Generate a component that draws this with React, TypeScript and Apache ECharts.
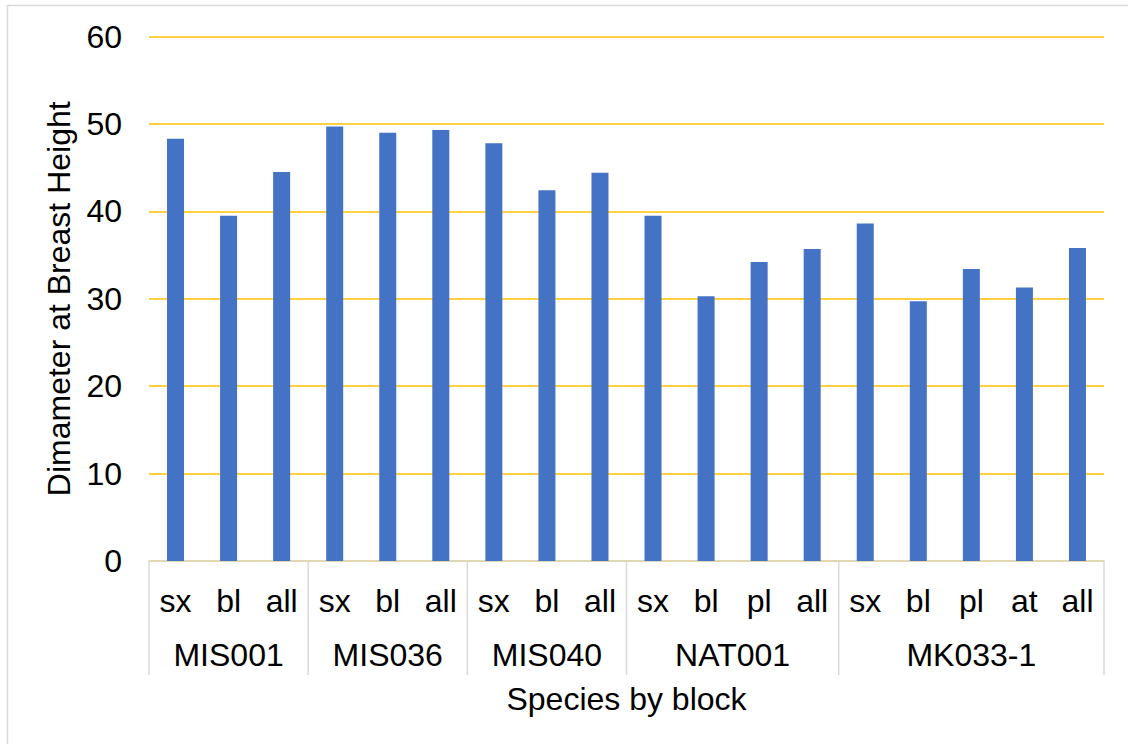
import React, { useEffect, useRef } from "react";
import * as echarts from "echarts";

// Species within each block, in drawing order
const species = [
  "sx", "bl", "all",
  "sx", "bl", "all",
  "sx", "bl", "all",
  "sx", "bl", "pl", "all",
  "sx", "bl", "pl", "at", "all",
];

// Mean diameter at breast height for each species/block pair
const dbh = [
  48.3, 39.5, 44.5,
  49.7, 49.0, 49.3,
  47.8, 42.4, 44.4,
  39.5, 30.3, 34.2, 35.7,
  38.6, 29.7, 33.4, 31.3, 35.8,
];

// Blocks and how many species columns each spans
const blocks = ["MIS001", "MIS036", "MIS040", "NAT001", "MK033-1"];
const blockSizes = [3, 3, 3, 4, 5];

const yTicks = { min: 0, max: 60, interval: 10 };

const FONT = "Liberation Sans, Arial, sans-serif";
const FS = 32;
const GRID_GOLD = "#FFC000";
const AXIS_GREY = "#D9D9D9";
const BAR_BLUE = "#4472C4";

export default function App() {
  const ref = useRef<HTMLDivElement>(null);

  useEffect(() => {
    if (!ref.current) return;
    const chart = echarts.init(ref.current, undefined, { renderer: "svg" });

    // block spans in category units, [start, end)
    const spans: number[][] = [];
    let acc = 0;
    blockSizes.forEach((n) => {
      spans.push([acc, acc + n, 0]);
      acc += n;
    });

    chart.setOption({
      animation: false,
      textStyle: { fontFamily: FONT },
      grid: { left: 149, right: 24, top: 36.5, bottom: 183, containLabel: false },
      xAxis: [
        {
          type: "category",
          data: species,
          axisLine: { show: true, lineStyle: { color: AXIS_GREY, width: 1.5 } },
          axisTick: { show: false },
          axisLabel: {
            color: "#000",
            fontSize: FS,
            lineHeight: 32,
            margin: 24,
            interval: 0,
            fontFamily: FONT,
          },
          name: "Species by block",
          nameLocation: "middle",
          nameGap: 122,
          nameTextStyle: { color: "#000", fontSize: FS, lineHeight: 32, fontFamily: FONT },
        },
        {
          type: "value",
          min: 0,
          max: species.length,
          show: false,
          position: "bottom",
        },
      ],
      yAxis: {
        type: "value",
        min: yTicks.min,
        max: yTicks.max,
        interval: yTicks.interval,
        axisLine: { show: false },
        axisTick: { show: false },
        splitLine: { lineStyle: { color: GRID_GOLD, width: 1.5 } },
        axisLabel: { color: "#000", fontSize: FS, margin: 27, fontFamily: FONT },
        name: "Dimameter at Breast Height",
        nameLocation: "middle",
        nameGap: 74,
        nameTextStyle: { color: "#000", fontSize: FS, fontFamily: FONT },
      },
      series: [
        {
          type: "bar",
          data: dbh,
          barWidth: 17,
          itemStyle: { color: BAR_BLUE },
        },
        {
          // block labels and their separators under the species row
          type: "custom",
          xAxisIndex: 1,
          yAxisIndex: 0,
          clip: false,
          silent: true,
          data: spans,
          encode: { x: [0, 1], y: 2 },
          renderItem: (params: any, api: any) => {
            const a = api.coord([api.value(0), 0]);
            const b = api.coord([api.value(1), 0]);
            const children: any[] = [
              {
                type: "line",
                shape: { x1: a[0], y1: a[1], x2: a[0], y2: a[1] + 114 },
                style: { stroke: AXIS_GREY, lineWidth: 1.5 },
              },
              {
                type: "text",
                x: (a[0] + b[0]) / 2,
                y: a[1] + 94,
                style: {
                  text: blocks[params.dataIndex],
                  fill: "#000",
                  font: `${FS}px ${FONT}`,
                  align: "center",
                  verticalAlign: "middle",
                },
              },
            ];
            if (params.dataIndex === blocks.length - 1) {
              children.push({
                type: "line",
                shape: { x1: b[0], y1: b[1], x2: b[0], y2: b[1] + 114 },
                style: { stroke: AXIS_GREY, lineWidth: 1.5 },
              });
            }
            return { type: "group", children };
          },
        },
      ],
      graphic: [
        {
          type: "rect",
          shape: { x: 7.5, y: 5.5, width: 1300, height: 1000 },
          style: { fill: "none", stroke: AXIS_GREY, lineWidth: 1.5 },
          silent: true,
          z: -10,
        },
      ],
    });

    return () => chart.dispose();
  }, []);

  return (
    <div
      ref={ref}
      style={{ position: "fixed", left: 0, top: 0, width: 1128, height: 744, background: "#fff" }}
    />
  );
}
